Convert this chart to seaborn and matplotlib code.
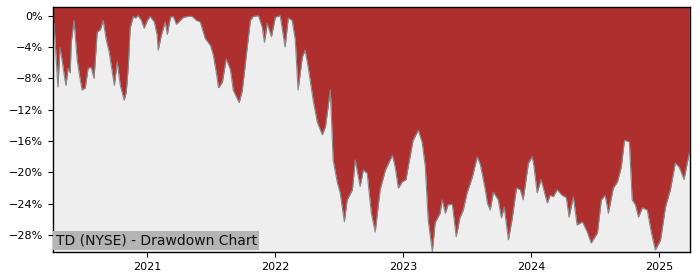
import matplotlib
matplotlib.use("Agg")
import matplotlib.pyplot as plt
import matplotlib.ticker as mticker
import seaborn as sns
import pandas as pd

dates = [
    "2020-04-07", "2020-04-10", "2020-04-16", "2020-04-21", "2020-04-27", "2020-05-03", "2020-05-09",
    "2020-05-14", "2020-05-20", "2020-05-26", "2020-05-29", "2020-06-06", "2020-06-15", "2020-06-23",
    "2020-06-29", "2020-07-08", "2020-07-16", "2020-07-25", "2020-08-02", "2020-08-11", "2020-08-20",
    "2020-08-28", "2020-09-06", "2020-09-14", "2020-09-23", "2020-09-29", "2020-10-07", "2020-10-16",
    "2020-10-27", "2020-11-02", "2020-11-08", "2020-11-13", "2020-11-22", "2020-11-28", "2020-12-06",
    "2020-12-15", "2020-12-23", "2021-01-01", "2021-01-09", "2021-01-21", "2021-01-29", "2021-02-01",
    "2021-02-10", "2021-02-21", "2021-02-27", "2021-03-08", "2021-03-16", "2021-03-25", "2021-04-05",
    "2021-04-14", "2021-04-28", "2021-05-09", "2021-05-21", "2021-06-01", "2021-06-15", "2021-06-30",
    "2021-07-08", "2021-07-17", "2021-07-23", "2021-08-03", "2021-08-14", "2021-08-26", "2021-09-03",
    "2021-09-20", "2021-09-29", "2021-10-13", "2021-10-22", "2021-10-30", "2021-11-14", "2021-11-25",
    "2021-12-01", "2021-12-09", "2021-12-21", "2022-01-01", "2022-01-15", "2022-01-29", "2022-02-07",
    "2022-02-18", "2022-02-27", "2022-03-07", "2022-03-19", "2022-03-27", "2022-04-05", "2022-04-19",
    "2022-05-01", "2022-05-15", "2022-05-24", "2022-06-07", "2022-06-15", "2022-06-27", "2022-07-05",
    "2022-07-17", "2022-07-25", "2022-08-09", "2022-08-17", "2022-08-31", "2022-09-09", "2022-09-20",
    "2022-10-02", "2022-10-13", "2022-10-27", "2022-11-11", "2022-12-01", "2022-12-09", "2022-12-18",
    "2022-12-29", "2023-01-09", "2023-01-15", "2023-01-29", "2023-02-13", "2023-02-24", "2023-03-05",
    "2023-03-13", "2023-03-25", "2023-04-02", "2023-04-16", "2023-04-22", "2023-05-01", "2023-05-09",
    "2023-05-21", "2023-06-01", "2023-06-12", "2023-06-21", "2023-07-02", "2023-07-17", "2023-07-31",
    "2023-08-09", "2023-08-23", "2023-08-29", "2023-09-06", "2023-09-15", "2023-09-29", "2023-10-08",
    "2023-10-16", "2023-10-28", "2023-11-08", "2023-11-20", "2023-12-01", "2023-12-09", "2023-12-24",
    "2024-01-04", "2024-01-09", "2024-01-18", "2024-01-29", "2024-02-16", "2024-02-24", "2024-03-04",
    "2024-03-15", "2024-03-29", "2024-04-10", "2024-04-18", "2024-04-30", "2024-05-11", "2024-05-26",
    "2024-06-09", "2024-06-20", "2024-07-08", "2024-07-19", "2024-07-30", "2024-08-08", "2024-08-22",
    "2024-09-03", "2024-09-14", "2024-09-23", "2024-10-07", "2024-10-15", "2024-10-24", "2024-11-02",
    "2024-11-13", "2024-11-27", "2024-12-09", "2024-12-20", "2025-01-04", "2025-01-18", "2025-02-01",
    "2025-02-15", "2025-02-26", "2025-03-12", "2025-03-21", "2025-03-27",
]

drawdown_pct = [
    -0.6, -1.2, -5.4, -9.1, -4.1, -5.7, -7.6,
    -8.9, -6.7, -7.3, -3.4, -0.6, -5.7, -8.0,
    -9.5, -9.2, -6.7, -6.6, -8.0, -2.1, -1.8,
    -0.6, -3.1, -4.6, -7.2, -8.9, -5.9, -8.9,
    -10.8, -9.7, -6.3, -1.6, -0.1, -0.3, 0.0,
    -0.6, -1.6, -0.6, -0.1, -0.8, -2.5, -4.4,
    -2.5, -0.8, -2.4, -0.2, -0.1, -1.1, -0.6,
    -0.2, -0.1, -0.1, -0.6, -0.8, -2.9, -3.8,
    -5.0, -7.3, -9.2, -8.5, -5.5, -6.9, -9.5,
    -11.1, -9.5, -4.0, -0.6, -0.1, 0.0, -1.5,
    -3.4, -1.0, -2.7, -0.2, 0.0, -4.0, -0.3,
    -0.6, -3.1, -9.5, -5.3, -4.4, -6.6, -10.8,
    -13.6, -15.2, -14.2, -9.5, -18.4, -21.3, -22.6,
    -26.3, -23.5, -22.2, -18.4, -21.8, -19.7, -20.1,
    -25.2, -27.6, -22.2, -19.7, -17.8, -19.3, -22.0,
    -21.2, -20.9, -19.3, -15.9, -14.6, -16.2, -19.3,
    -26.0, -30.1, -26.4, -25.2, -23.5, -25.2, -24.1,
    -24.1, -28.2, -25.7, -24.8, -22.6, -20.6, -18.0,
    -19.0, -22.2, -23.9, -24.8, -22.5, -23.5, -25.8,
    -24.4, -28.6, -25.8, -22.0, -22.2, -23.5, -18.8,
    -18.0, -19.3, -22.6, -20.9, -23.9, -22.9, -23.1,
    -22.2, -22.9, -23.2, -25.7, -23.1, -26.7, -26.3,
    -27.6, -29.0, -27.7, -23.5, -22.9, -25.2, -22.0,
    -21.2, -19.3, -15.9, -16.1, -23.5, -24.1, -25.7,
    -24.5, -24.8, -27.7, -29.9, -28.6, -24.4, -22.2,
    -18.8, -19.3, -20.9, -18.8, -17.5,
]

df = pd.DataFrame({"date": pd.to_datetime(dates), "dd": drawdown_pct})

RED = "#af2f2f"
BG = "#eeeeee"
Y_TOP, Y_BOT = 1.1, -30.15

fig = plt.figure(figsize=(7, 2.8), dpi=100)
ax = fig.add_axes([53 / 700, 1 - 252 / 280, (690 - 53) / 700, (252 - 7) / 280])
ax.set_facecolor(BG)

ax.fill_between(df["date"], df["dd"], Y_TOP, color=RED, linewidth=0)
sns.lineplot(data=df, x="date", y="dd", ax=ax, color="#888888", linewidth=0.8)

ax.set_ylim(Y_BOT, Y_TOP)
ax.set_xlim(pd.Timestamp("2020-04-07"), pd.Timestamp("2025-03-29"))
ax.set_yticks([0, -4, -8, -12, -16, -20, -24, -28])
ax.yaxis.set_major_formatter(mticker.FuncFormatter(
    lambda v, _: ("\u2212" if v < 0 else "") + f"{abs(v):.0f}%"))
ax.xaxis.set_major_locator(matplotlib.dates.YearLocator())
ax.xaxis.set_major_formatter(matplotlib.dates.DateFormatter("%Y"))
ax.tick_params(labelsize=8, length=3.5, width=0.8, colors="black")
ax.set_xlabel("")
ax.set_ylabel("")
for s in ax.spines.values():
    s.set_visible(True)
    s.set_color("black")
    s.set_linewidth(1.0)

ax.text(0.004, 0.018, "TD (NYSE) - Drawdown Chart", transform=ax.transAxes,
        fontsize=10, color="#111111", ha="left", va="bottom",
        bbox=dict(facecolor="#b4b4b4", edgecolor="none", pad=2))

fig.savefig("out.png", dpi=100)
